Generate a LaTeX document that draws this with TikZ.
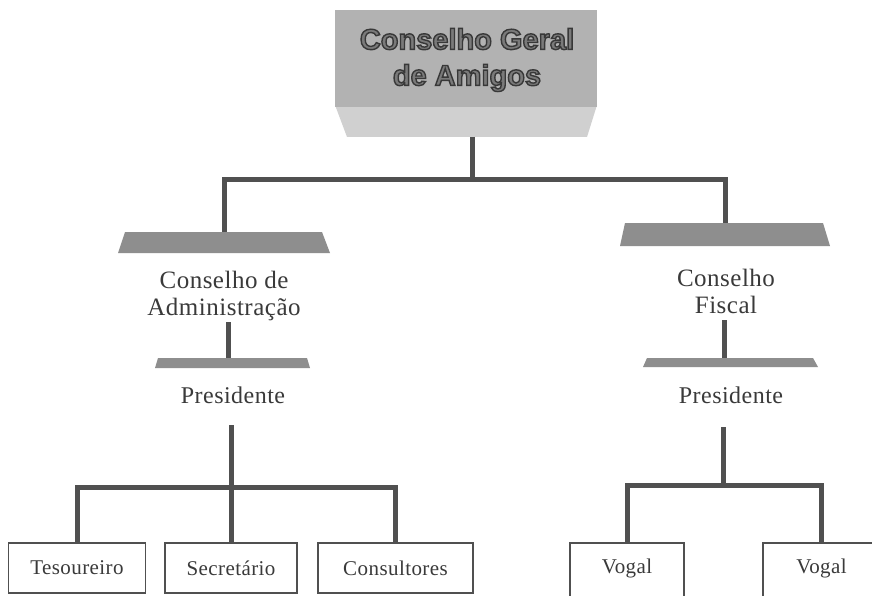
\documentclass[tikz,border=0pt]{standalone}
\usepackage{fontspec}
\setmainfont{Liberation Serif}[LetterSpace=2]
\newfontfamily\headfont{Liberation Sans}
\definecolor{linec}{HTML}{505050}
\definecolor{txtc}{HTML}{3A3A3A}
\definecolor{topfill}{HTML}{B2B2B2}
\definecolor{toplow}{HTML}{D0D0D0}
\definecolor{trapfill}{HTML}{8E8E8E}
\definecolor{headtxt}{HTML}{7A7A7A}
\newcommand{\outlinetext}[1]{\special{pdf:literal direct 2 Tr 1.4 w 0.22 G}#1\special{pdf:literal direct 0 Tr}}
\begin{document}
\begin{tikzpicture}[x=1pt,y=-1pt,
  conn/.style={draw=linec, line width=5pt},
  boxline/.style={draw=linec, line width=1.8pt},
  trap/.style={fill=trapfill},
  lbl/.style={font=\fontsize{25}{27}\selectfont, text=txtc, align=center, inner sep=0pt},
  pres/.style={font=\fontsize{24}{26}\selectfont, text=txtc, inner sep=0pt},
  bx/.style={boxline, minimum height=50pt, inner sep=0pt, text=txtc, font=\fontsize{21}{24}\selectfont},
  vbx/.style={minimum height=50pt, inner sep=0pt, text=txtc, font=\fontsize{21}{24}\selectfont}
]
\useasboundingbox (0,0) rectangle (872,596);
\clip (0,0) rectangle (872,596);
\fill[white] (0,0) rectangle (872,596);

% top box
\fill[toplow] (335,105) -- (597,105) -- (587,137) -- (347,137) -- cycle;
\fill[topfill] (335,10) rectangle (597,107);
\node[font=\headfont\bfseries\fontsize{29}{36}\selectfont, text=headtxt, align=center, inner sep=0pt] (top) at (467,60) {\outlinetext{Conselho Geral}\\\outlinetext{de Amigos}};
\coordinate (topb) at (472,137);
\coordinate (bus) at (472,180);

% upper trapezoids
\fill[trap] (125,232) -- (322,232) -- (330,253) -- (118,253) -- cycle;
\coordinate (tL) at (224,232);
\fill[trap] (625,223) -- (823,223) -- (830,246) -- (620,246) -- cycle;
\coordinate (tR) at (725,223);

\draw[conn] (topb) -- (bus);
\draw[conn] (tL) |- (bus) -| (tR);

% council labels
\node[lbl] (cda) at (224,296) {Conselho de\\Administração};
\node[lbl] (cf) at (726,291) {Conselho\\Fiscal};

% lower trapezoids
\fill[trap] (158,358) -- (307,358) -- (310,368) -- (155,368) -- cycle;
\coordinate (tL2) at (228,358);
\coordinate (cdab) at (228,322);
\fill[trap] (647,358) -- (813,358) -- (818,367) -- (643,367) -- cycle;
\coordinate (tR2) at (724,358);
\coordinate (cfb) at (724,320);
\draw[conn] (cdab) -- (tL2);
\draw[conn] (cfb) -- (tR2);

% presidents
\node[pres] (pL) at (233,395) {Presidente};
\node[pres] (pR) at (731,395) {Presidente};
\coordinate (pLb) at (231,425);
\coordinate (pRb) at (723,427);
\coordinate (busL) at (231,487);
\coordinate (busR) at (723,485);

% bottom boxes left
\node[bx, minimum width=137pt] (tes) at (77,568) {Tesoureiro};
\node[bx, minimum width=132pt] (sec) at (231,568) {Secretário};
\node[bx, minimum width=155pt] (cons) at (395.5,568) {Consultores};
\draw[conn] (pLb) -- (busL);
\draw[conn] (tes.north) |- (busL) -| (cons.north);
\draw[conn] (busL) -- (sec.north);

% bottom boxes right
\node[vbx, minimum width=114pt] (v1) at (627,568) {Vogal};
\node[vbx, minimum width=117pt] (v2) at (821.5,568) {Vogal};
\draw[boxline] ([yshift=-20pt]v1.south west) -- (v1.north west) -- (v1.north east) -- ([yshift=-20pt]v1.south east);
\draw[boxline] ([yshift=-20pt]v2.south west) -- (v2.north west) -- (v2.north east) -- ([yshift=-20pt]v2.south east);
\draw[conn] (pRb) -- (busR);
\draw[conn] (v1.north) |- (busR) -| (v2.north);
\end{tikzpicture}
\end{document}
